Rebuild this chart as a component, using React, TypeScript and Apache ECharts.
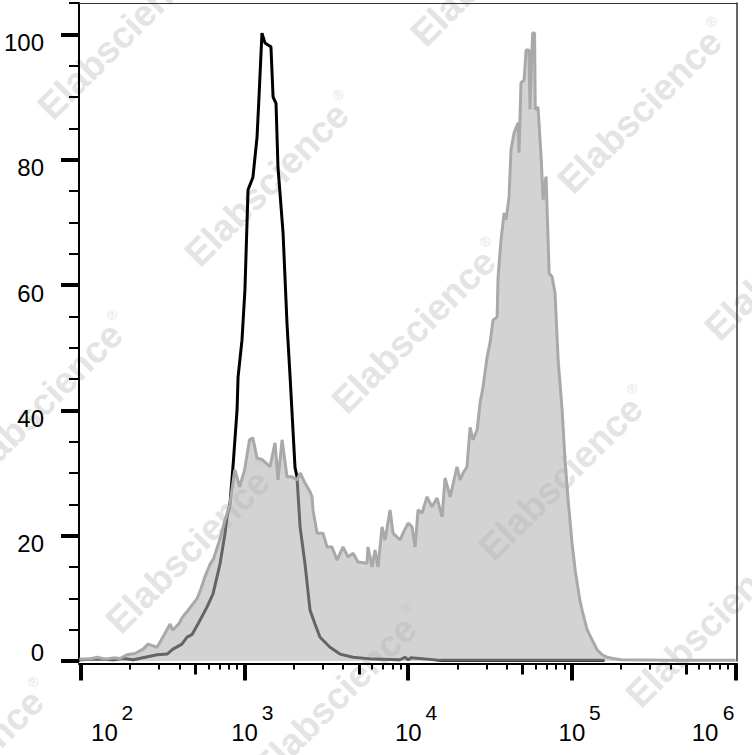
import React, { useEffect, useRef } from "react";
import * as echarts from "echarts";

// Isotype control (black outline): x as log10(intensity), y as % of max
const blackLogX = [1.99, 2.10, 2.20, 2.26, 2.32, 2.465, 2.526, 2.562, 2.617, 2.648, 2.678, 2.715, 2.770, 2.807, 2.850, 2.880, 2.892, 2.911, 2.929, 2.954, 2.960, 2.984, 3.002, 3.021, 3.051, 3.076, 3.088, 3.106, 3.125, 3.143, 3.161, 3.174, 3.192, 3.204, 3.235, 3.259, 3.278, 3.308, 3.320, 3.339, 3.369, 3.400, 3.430, 3.461, 3.522, 3.583, 3.663, 3.785, 3.950, 3.980, 3.999, 4.017, 4.20, 4.80, 5.20];
const blackY = [0.2, 0.3, 0.2, 0.4, 0.2, 1.0, 1.1, 1.9, 2.7, 3.8, 4.2, 5.9, 8.6, 10.7, 15.5, 20.3, 23.0, 25.1, 31.0, 40.1, 45.3, 51.2, 59.2, 75.2, 77.2, 83.6, 90.0, 100.2, 98.6, 98.3, 98.0, 90.0, 89.0, 78.8, 68.3, 53.9, 45.3, 30.9, 29.4, 21.4, 15.5, 8.1, 5.9, 3.8, 2.2, 1.1, 0.6, 0.3, 0.2, 0.6, 0.2, 0.5, 0.1, 0.1, 0.1];

// Stained sample (gray filled)
const grayLogX = [1.99, 2.05, 2.10, 2.15, 2.20, 2.24, 2.28, 2.33, 2.38, 2.41, 2.465, 2.50, 2.545, 2.56, 2.60, 2.62, 2.655, 2.71, 2.73, 2.76, 2.79, 2.81, 2.85, 2.88, 2.91, 2.94, 2.97, 3.00, 3.03, 3.05, 3.076, 3.11, 3.155, 3.186, 3.204, 3.229, 3.259, 3.29, 3.32, 3.339, 3.369, 3.40, 3.412, 3.418, 3.443, 3.479, 3.504, 3.534, 3.565, 3.601, 3.632, 3.663, 3.693, 3.748, 3.754, 3.779, 3.797, 3.815, 3.840, 3.858, 3.889, 3.907, 3.950, 3.968, 3.999, 4.023, 4.042, 4.060, 4.084, 4.115, 4.145, 4.176, 4.207, 4.225, 4.256, 4.298, 4.317, 4.335, 4.359, 4.378, 4.396, 4.421, 4.439, 4.457, 4.482, 4.500, 4.518, 4.543, 4.549, 4.567, 4.586, 4.598, 4.616, 4.628, 4.647, 4.671, 4.677, 4.689, 4.708, 4.720, 4.738, 4.744, 4.760, 4.772, 4.776, 4.793, 4.812, 4.824, 4.842, 4.861, 4.879, 4.897, 4.916, 4.940, 4.958, 4.977, 5.001, 5.020, 5.050, 5.068, 5.093, 5.123, 5.154, 5.185, 5.215, 5.252, 5.30, 5.60, 6.00];
const grayY = [0.3, 0.3, 0.6, 0.3, 0.5, 0.4, 1.0, 1.2, 1.9, 2.7, 2.2, 3.8, 5.9, 4.9, 6.0, 7.0, 8.1, 10.0, 11.3, 13.6, 15.5, 16.3, 19.5, 22.5, 25.0, 30.5, 27.8, 30.5, 35.3, 35.6, 32.4, 32.1, 31.0, 34.8, 28.9, 35.3, 29.4, 29.4, 28.9, 30.0, 28.4, 27.0, 26.2, 24.1, 20.4, 20.4, 18.2, 18.2, 16.1, 18.2, 16.6, 17.2, 15.8, 15.6, 18.2, 15.0, 17.7, 15.0, 21.4, 19.3, 24.1, 20.4, 19.3, 20.4, 22.0, 21.4, 18.2, 24.1, 23.6, 26.2, 24.6, 26.0, 23.0, 29.2, 26.2, 31.0, 28.9, 30.0, 31.0, 37.3, 35.3, 36.9, 41.2, 43.7, 48.5, 50.8, 54.4, 54.9, 61.3, 67.2, 71.5, 70.4, 74.1, 81.6, 84.3, 85.9, 81.1, 92.3, 92.7, 97.5, 97.5, 88.0, 100.2, 100.2, 88.0, 88.4, 80.4, 73.6, 77.3, 61.9, 61.3, 58.7, 48.0, 40.1, 32.1, 25.7, 18.8, 14.5, 9.5, 7.5, 5.0, 3.4, 1.8, 1.0, 0.6, 0.4, 0.2, 0.1, 0.1];

// Axis ticks
const xMajorTicks = [1e2, 1e3, 1e4, 1e5, 1e6];
const xMediumTicks = [5e2, 5e3, 5e4, 5e5];
const xMinorTicks = [200, 300, 400, 600, 700, 800, 900, 2000, 3000, 4000, 6000, 7000, 8000, 9000, 20000, 30000, 40000, 60000, 70000, 80000, 90000, 200000, 300000, 400000, 600000, 700000, 800000, 900000];
const yMajorTicks = [0, 20, 40, 60, 80, 100];
const yMinorTicks = [5, 10, 15, 25, 30, 35, 45, 50, 55, 65, 70, 75, 85, 90, 95, 105];

const watermarkCenters = [
  [124, 33], [271, 180], [418, 327], [565, 474], [712, 621],
  [45, 400], [192, 547], [339, 694],
  [497, -40], [644, 107], [791, 254], [-34, 767],
];

const FONT = "'Liberation Sans', Arial, Helvetica, sans-serif";

export default function App() {
  const ref = useRef<HTMLDivElement>(null);
  useEffect(() => {
    if (!ref.current) return;
    const chart = echarts.init(ref.current, undefined, { renderer: "svg" });
    const xMin = Math.pow(10, 1.988);
    const xMax = Math.pow(10, 6.009);
    const blackData = blackLogX.map((e, i) => [Math.pow(10, e), blackY[i]]);
    const grayData = grayLogX.map((e, i) => [Math.pow(10, e), grayY[i]]);
    const expOf = (v: number) => Math.round(Math.log10(v));

    const hidden = {
      splitLine: { show: false },
      minorTick: { show: false },
      minorSplitLine: { show: false },
    };

    const option: any = {
      animation: false,
      backgroundColor: "#fff",
      grid: { left: 79, top: 3, width: 658, height: 658, containLabel: false, outerBoundsMode: "none" },
      xAxis: [
        {
          // main axis: major ticks + base "10" of each label
          type: "log", logBase: 10, min: xMin, max: xMax, position: "bottom", offset: 2.5,
          axisLine: { show: true, onZero: false, lineStyle: { color: "#000", width: 2 } },
          axisTick: { show: true, customValues: xMajorTicks, length: 17, lineStyle: { color: "#000", width: 4 } },
          axisLabel: {
            show: true, customValues: xMajorTicks, margin: 57, color: "#000", fontFamily: FONT, fontSize: 24,
            formatter: (v: number) => {
              const e = expOf(v);
              if (e === 2) return "{l|10}";
              if (e === 6) return "{r|10}";
              return "{c|10}";
            },
            rich: {
              c: { fontSize: 24, fontFamily: FONT, color: "#000", lineHeight: 24 },
              l: { fontSize: 24, fontFamily: FONT, color: "#000", lineHeight: 24, padding: [0, 0, 0, 47] },
              r: { fontSize: 24, fontFamily: FONT, color: "#000", lineHeight: 24, padding: [0, 61, 0, 0] },
            },
          },
          ...hidden,
        },
        {
          // medium ticks + exponent (superscript) of each label
          type: "log", logBase: 10, min: xMin, max: xMax, position: "bottom", offset: 2.5,
          axisLine: { show: false, onZero: false },
          axisTick: { show: true, customValues: xMediumTicks, length: 11, lineStyle: { color: "#000", width: 3 } },
          axisLabel: {
            show: true, customValues: xMajorTicks, margin: 38.5, color: "#000", fontFamily: FONT, fontSize: 21,
            formatter: (v: number) => {
              const e = expOf(v);
              if (e === 2) return `{l|${e}}`;
              if (e === 6) return `{r|${e}}`;
              return `{c|${e}}`;
            },
            rich: {
              c: { fontSize: 21, fontFamily: FONT, color: "#000", lineHeight: 21, padding: [0, 0, 0, 46] },
              l: { fontSize: 21, fontFamily: FONT, color: "#000", lineHeight: 21, padding: [0, 0, 0, 93] },
              r: { fontSize: 21, fontFamily: FONT, color: "#000", lineHeight: 21, padding: [0, 14, 0, 0] },
            },
          },
          ...hidden,
        },
        {
          type: "log", logBase: 10, min: xMin, max: xMax, position: "bottom", offset: 2.5,
          axisLine: { show: false, onZero: false },
          axisTick: { show: true, customValues: xMinorTicks, length: 6, lineStyle: { color: "#000", width: 2 } },
          axisLabel: { show: false },
          ...hidden,
        },
        {
          type: "value", min: 0, max: 1, position: "top",
          axisLine: { show: true, onZero: false, lineStyle: { color: "#333", width: 1 } },
          axisTick: { show: false },
          axisLabel: { show: false },
          ...hidden,
        },
      ],
      yAxis: [
        {
          type: "value", min: 0, max: 105, position: "left",
          axisLine: { show: true, onZero: false, lineStyle: { color: "#000", width: 2 } },
          axisTick: { show: true, customValues: yMajorTicks, length: 18, lineStyle: { color: "#000", width: 4 } },
          axisLabel: {
            show: true, customValues: yMajorTicks, margin: 35, color: "#000", fontSize: 24, fontFamily: FONT,
            formatter: (v: number) => (v === 0 ? `{z|0}` : `{n|${v}}`),
            rich: {
              n: { fontSize: 24, fontFamily: FONT, color: "#000", padding: [16, 0, 0, 0] },
              z: { fontSize: 24, fontFamily: FONT, color: "#000", padding: [0, 0, 18, 0] },
            },
          },
          ...hidden,
        },
        {
          type: "value", min: 0, max: 105, position: "left",
          axisLine: { show: false, onZero: false },
          axisTick: { show: true, customValues: yMinorTicks, length: 10, lineStyle: { color: "#000", width: 2 } },
          axisLabel: { show: false },
          ...hidden,
        },
        {
          type: "value", min: 0, max: 105, position: "right",
          axisLine: { show: true, onZero: false, lineStyle: { color: "#333", width: 1.5 } },
          axisTick: { show: false },
          axisLabel: { show: false },
          ...hidden,
        },
      ],
      graphic: {
        elements: watermarkCenters.map(([x, y]) => ({
          type: "text",
          x,
          y,
          rotation: Math.PI / 4,
          z: 0,
          silent: true,
          style: {
            text: "{w|Elabscience}{r|®}",
            align: "center",
            verticalAlign: "middle",
            rich: {
              w: { fontSize: 37, fontWeight: "bold", fontFamily: FONT, fill: "#e4e4e4", lineHeight: 40 },
              r: { fontSize: 14, fontFamily: FONT, fill: "#e4e4e4", lineHeight: 14, verticalAlign: "top", padding: [0, 0, 0, 2] },
            },
          },
        })),
      },
      series: [
        {
          name: "Isotype",
          type: "line",
          xAxisIndex: 0,
          yAxisIndex: 0,
          data: blackData,
          showSymbol: false,
          symbol: "none",
          z: 2,
          lineStyle: { color: "#000", width: 3 },
        },
        {
          name: "Sample",
          type: "line",
          xAxisIndex: 0,
          yAxisIndex: 0,
          data: grayData,
          showSymbol: false,
          symbol: "none",
          z: 3,
          lineStyle: { color: "#a9a9a9", width: 3 },
          areaStyle: { color: "rgb(178,178,178)", opacity: 0.57, origin: "start" },
        },
      ],
    };
    chart.setOption(option);
    return () => chart.dispose();
  }, []);
  return (
    <div
      ref={ref}
      style={{ position: "absolute", left: 0, top: 0, width: 752, height: 755, background: "#fff" }}
    />
  );
}
